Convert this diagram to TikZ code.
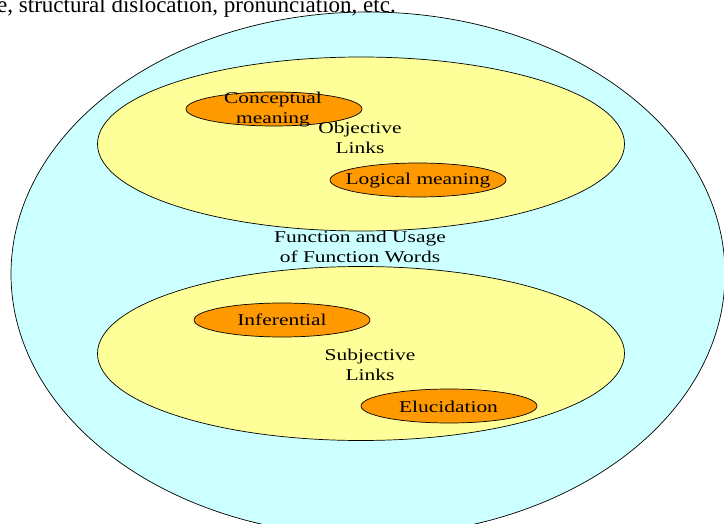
\documentclass[tikz,border=0pt]{standalone}
\usepackage{fontspec}
\setmainfont[FakeStretch=1.3]{Liberation Serif}
\newfontfamily\topfont{Liberation Serif}
\usetikzlibrary{shapes.geometric}
\definecolor{outercyan}{HTML}{CCFFFF}
\definecolor{linkyellow}{HTML}{FFFF99}
\definecolor{itemorange}{HTML}{FF9900}
\tikzset{
  blob/.style={ellipse, draw=black, line width=0.7pt, inner sep=0pt},
  outerblob/.style={blob, fill=outercyan, minimum width=714pt, minimum height=524pt},
  linkblob/.style={blob, fill=linkyellow, minimum width=527pt, minimum height=174pt},
  itemblob/.style={blob, fill=itemorange, minimum width=176pt, minimum height=34pt},
  lbl/.style={inner sep=0pt, align=center, font=\fontsize{16.5}{20}\selectfont},
}
\begin{document}
\begin{tikzpicture}[x=1pt,y=-1pt]
\useasboundingbox (0,0) rectangle (724,524);
\clip (0,0) rectangle (724,524);
% outer
\node[outerblob] (outer) at (368,274) {};
\node[anchor=base west, inner sep=0pt, font=\topfont\fontsize{23}{27}\selectfont] (toptext) at (-3,13) {e, structural dislocation, pronunciation, etc.};
% objective
\node[linkblob] (obj) at (361,144) {};
\node[itemblob] (concept) at (274,109) {};
\node[itemblob] (logical) at (418,180) {};
\node[lbl] (conceptlbl) at (273,109.7) {Conceptual\\meaning};
\node[lbl] (objlbl) at (360,137.4) {Objective\\Links};
\node[lbl, anchor=base] (logicallbl) at (418,185) {Logical meaning};
% centre label
\node[lbl] (fnlbl) at (360,246.8) {Function and Usage\\of Function Words};
% subjective
\node[linkblob] (subj) at (361,353.5) {};
\node[itemblob] (infer) at (282,320) {};
\node[itemblob] (eluc) at (449,406) {};
\node[lbl, anchor=base] (inferlbl) at (282,325) {Inferential};
\node[lbl] (subjlbl) at (370,364.4) {Subjective\\Links};
\node[lbl, anchor=base] (eluclbl) at (448.5,412) {Elucidation};
\end{tikzpicture}
\end{document}
